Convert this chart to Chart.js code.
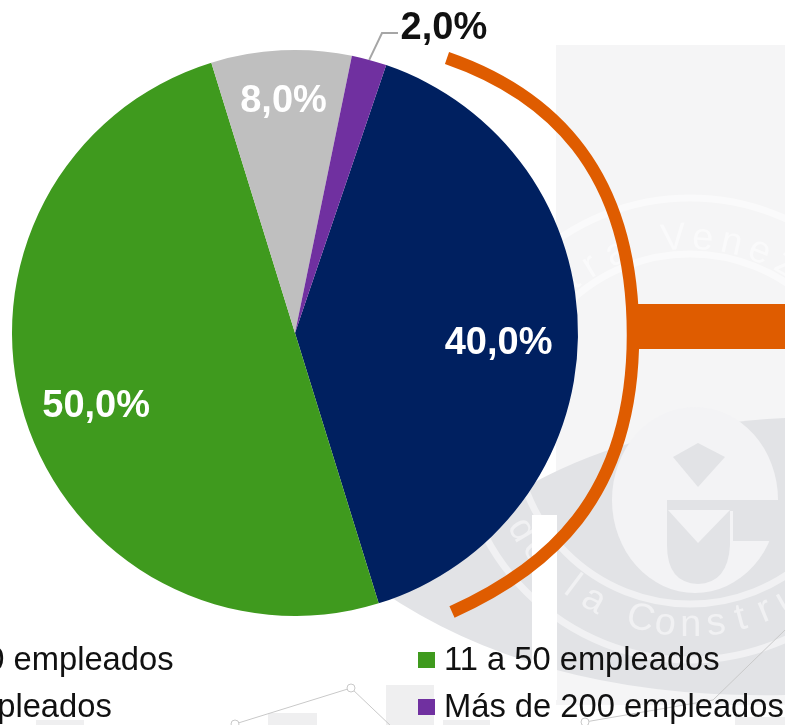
<!DOCTYPE html>
<html><head><meta charset="utf-8">
<style>html,body{margin:0;padding:0;background:#fff;overflow:hidden}canvas{display:block}</style>
<script src="https://cdn.jsdelivr.net/npm/chart.js@4"></script>
</head><body><canvas id="c" width="785" height="725"></canvas>
<script>
const categories = ["Menos de 10 empleados","11 a 50 empleados","51 a 200 empleados","Más de 200 empleados"];
const shares = [40.0,50.0,8.0,2.0];
const sliceColors = ["#002060","#3f9a1e","#bfbfbf","#7030a0"];
const labelColors = ["#fff","#fff","#fff","#111"];
const labelRadius = [0.72,0.745,0.83,1.2];
const labelTurnDeg = [1.4,-2.2,0,10.8];
const FONT="Liberation Sans, Arial, sans-serif";
const orange="#df5c00";

function arcText(ctx,str,cx,cy,r,startDeg,stepDeg,bottom){
  ctx.font="38px "+FONT;ctx.textAlign="center";ctx.textBaseline="alphabetic";
  [...str].forEach((ch,i)=>{
    const a=(startDeg+i*stepDeg)*Math.PI/180;
    ctx.save();ctx.translate(cx,cy);
    if(bottom){ctx.rotate(-a);ctx.translate(0,r);}
    else{ctx.rotate(a);ctx.translate(0,-r);}
    ctx.fillText(ch,0,0);ctx.restore();
  });
}
const backdrop={id:"backdrop",beforeDraw(chart){
  const c=chart.ctx;c.save();
  const cx=690,cy=429;
  c.fillStyle="#f5f5f6";c.fillRect(556,45,229,660);
  c.fillStyle="#e2e3e6";c.beginPath();
  c.moveTo(533,483);c.quadraticCurveTo(640,425,785,418);
  c.lineTo(785,695);c.quadraticCurveTo(540,700,380,590);c.closePath();c.fill();
  c.fillStyle="#fff";c.fillRect(532,515,25,185);
  c.strokeStyle="rgba(255,255,255,.5)";c.lineWidth=7;
  [175,231].forEach(r=>{c.beginPath();c.arc(cx,cy,r,0,Math.PI*2);c.stroke();});
  c.fillStyle="#f3f3f5";c.beginPath();c.ellipse(695,500,83,93,0,0,Math.PI*2);c.fill();
  c.fillStyle="#e2e3e6";c.beginPath();c.moveTo(667,510);c.lineTo(730,510);c.lineTo(730,545);c.quadraticCurveTo(728,583,698,584);c.quadraticCurveTo(667,583,667,545);c.closePath();c.fill();
  c.fillRect(667,500,118,11);
  c.fillRect(733,511,52,30);
  c.beginPath();c.moveTo(673,457);c.lineTo(698,443);c.lineTo(725,457);c.lineTo(698,487);c.closePath();c.fill();
  c.fillStyle="#f3f3f5";c.beginPath();c.moveTo(668,510);c.lineTo(730,510);c.lineTo(698,543);c.closePath();c.fill();
  c.fillStyle="rgba(255,255,255,.5)";
  arcText(c,"Cámara Venezolana",cx,cy,180,-5-7*8.8,8.8,false);
  arcText(c,"de la Construcción",cx,cy,207,-59,7.4,true);
  c.fillStyle="#efeff0";
  [[36,720,48],[268,713,49],[386,685,48],[443,720,47],[735,717,50]].forEach(b=>c.fillRect(b[0],b[1],b[2],725-b[1]));
  c.strokeStyle="#c9c9c9";c.lineWidth=1;
  c.beginPath();c.moveTo(235,724);c.lineTo(351,688);c.lineTo(392,727);c.stroke();
  c.beginPath();c.moveTo(585,722);c.lineTo(713,700);c.lineTo(785,630);c.stroke();
  c.fillStyle="#fff";
  [[235,724],[351,688],[585,722]].forEach(p=>{c.beginPath();c.arc(p[0],p[1],4,0,Math.PI*2);c.fill();c.stroke();});
  c.restore();
}};
const overlay={id:"overlay",afterDraw(chart){
  const c=chart.ctx,arcs=chart.getDatasetMeta(0).data;c.save();
  c.strokeStyle=orange;c.lineWidth=12.5;c.lineCap="butt";
  c.beginPath();c.moveTo(447,58);c.bezierCurveTo(545,92,633,165,633,335);
  c.bezierCurveTo(633,500,545,570,452,612);c.stroke();
  c.fillStyle=orange;c.fillRect(634,304,151,45);
  const last=arcs[3],mid=(last.startAngle+last.endAngle)/2;
  c.strokeStyle="#a6a6a6";c.lineWidth=2;c.beginPath();
  c.moveTo(last.x+Math.cos(mid)*last.outerRadius,last.y+Math.sin(mid)*last.outerRadius);
  c.lineTo(382,33);c.lineTo(398,33);c.stroke();
  c.font="bold 38px "+FONT;c.textAlign="center";c.textBaseline="middle";
  arcs.forEach((a,i)=>{
    const m=(a.startAngle+a.endAngle)/2+labelTurnDeg[i]*Math.PI/180;
    const r=a.outerRadius*labelRadius[i];
    c.fillStyle=labelColors[i];
    c.fillText(shares[i].toFixed(1).replace(".",",")+"%",a.x+Math.cos(m)*r,a.y+Math.sin(m)*r+(i<3?3:1));
  });
  c.font="32.7px "+FONT;c.textAlign="left";c.textBaseline="alphabetic";
  const cols=[[-184.5,-210],[444,418]],rows=[[670,652],[717,699]];
  [[0,0,0],[1,0,1],[2,1,0],[3,1,1]].forEach(o=>{
    const [i,row,col]=o;
    c.fillStyle=sliceColors[i];c.fillRect(cols[col][1],rows[row][1],17,16);
    c.fillStyle="#111";c.fillText(categories[i],cols[col][0],rows[row][0]);
  });
  c.restore();
}};
new Chart(document.getElementById("c"),{
  type:"pie",
  data:{labels:categories,datasets:[{data:shares,backgroundColor:sliceColors,borderWidth:0}]},
  options:{responsive:false,animation:false,rotation:18.8,
    layout:{padding:{left:12,right:207,top:50,bottom:109}},
    plugins:{legend:{display:false},tooltip:{enabled:false}}},
  plugins:[backdrop,overlay]
});
</script></body></html>
